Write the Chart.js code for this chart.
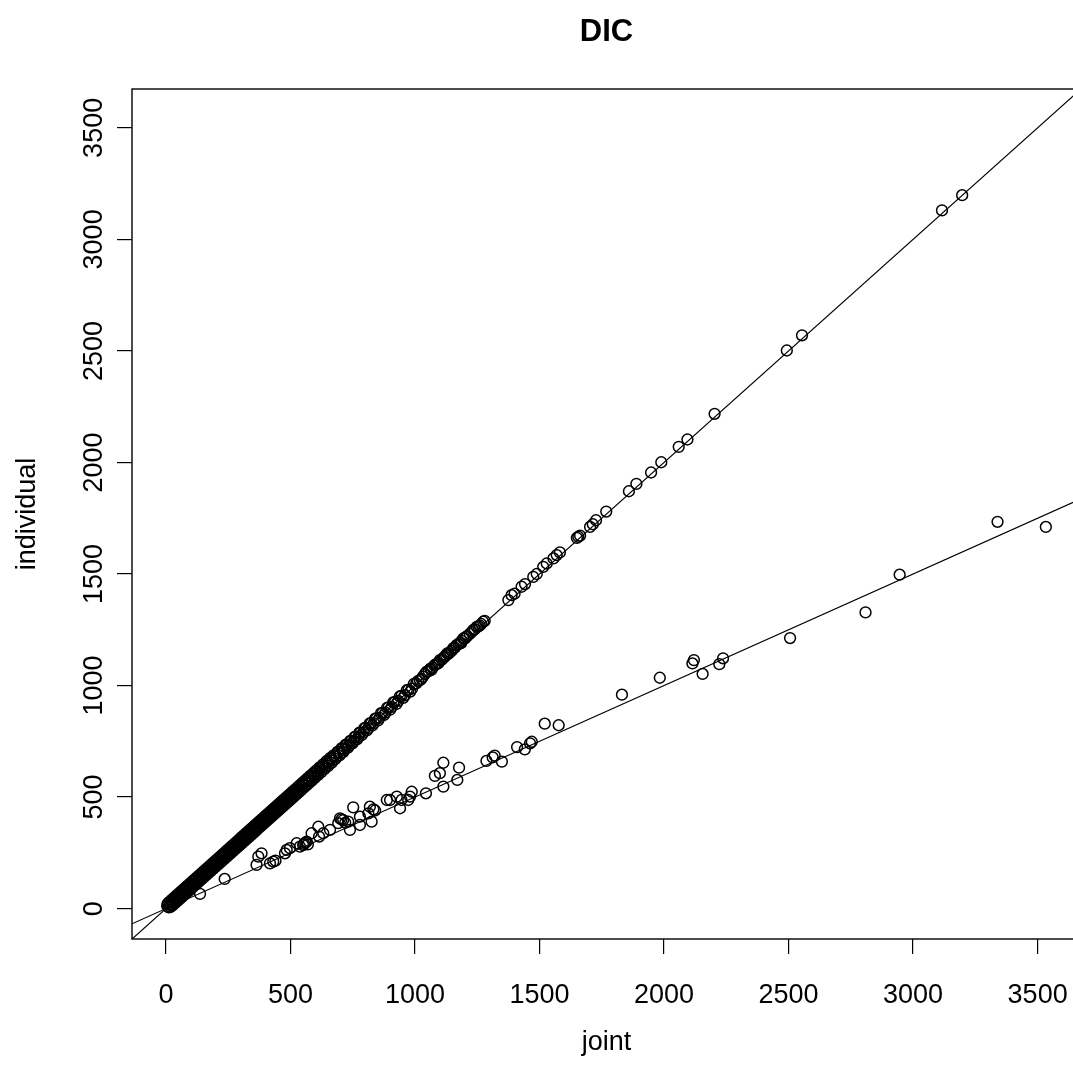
<!DOCTYPE html>
<html>
<head>
<meta charset="utf-8">
<title>DIC</title>
<script src="https://cdn.jsdelivr.net/npm/chart.js@4"></script>
<style>
  html, body { margin: 0; padding: 0; background: #fff; overflow: hidden; }
  #chart { display: block; }
</style>
</head>
<body>
<canvas id="chart" width="1083" height="1076" style="width:1083px;height:1076px"></canvas>
<script>
// DIC: joint vs individual, two groups of points and two reference lines

const TITLE = 'DIC';
const X_LABEL = 'joint';
const Y_LABEL = 'individual';

const xTicks = [0, 500, 1000, 1500, 2000, 2500, 3000, 3500];
const yTicks = [0, 500, 1000, 1500, 2000, 2500, 3000, 3500];

// upper group (individual ~ joint)
const upperJoint = [
  5, 10, 16, 21, 26, 30, 35, 39, 44, 48, 53, 57, 61, 66, 70, 74, 79, 83, 88, 92,
  97, 101, 106, 110, 115, 119, 124, 128, 133, 137, 142, 146, 151, 155, 160, 164, 169, 173, 178, 182,
  187, 191, 196, 200, 205, 209, 214, 218, 223, 227, 232, 236, 241, 245, 250, 254, 259, 263, 268, 272,
  277, 281, 286, 290, 295, 299, 304, 308, 313, 317, 322, 326, 331, 335, 340, 344, 349, 353, 358, 362,
  367, 371, 376, 380, 385, 389, 394, 398, 403, 407, 412, 416, 421, 425, 430, 434, 439, 443, 448, 452,
  457, 461, 466, 470, 475, 479, 484, 488, 493, 497, 502, 506, 511, 516, 521, 526, 531, 536, 541, 546,
  551, 556, 561, 566, 571, 577, 583, 589, 595, 601, 607, 613, 620, 627, 634, 641, 648, 655, 662, 669,
  677, 685, 693, 701, 709, 717, 726, 735, 744, 753, 762, 772, 782, 792, 802, 813, 824, 835, 846, 858,
  870, 882, 894, 907, 920, 933, 946, 960, 974, 988,
  1005, 1020, 1032, 1047, 1055, 1062, 1070, 1078, 1088, 1100, 1108, 1115, 1125, 1135, 1141, 1154, 1160, 1167, 1175, 1181,
  1188, 1194, 1200, 1210, 1220, 1234, 1240, 1248, 1255, 1260, 1274, 1280, 1375, 1388, 1400, 1428, 1442, 1475, 1489, 1515,
  1529, 1556, 1569, 1582, 1650, 1656, 1663, 1703, 1714, 1727, 1768, 1859, 1889, 1948, 1989, 2059, 2094, 2203, 2493, 2554,
  3116, 3197
];
const upperIndividual = [
  12, 8, 20, 17, 30, 27, 41, 36, 50, 44, 58, 55, 68, 62, 77, 71, 86, 80, 95, 88,
  104, 98, 112, 107, 122, 114, 131, 125, 140, 132, 150, 142, 158, 152, 168, 160, 176, 170, 186, 178,
  194, 188, 204, 196, 213, 206, 221, 214, 231, 224, 240, 232, 249, 242, 258, 250, 267, 260, 276, 268,
  285, 278, 294, 286, 303, 296, 312, 304, 321, 314, 330, 322, 339, 332, 348, 340, 357, 350, 366, 358,
  375, 368, 384, 376, 393, 386, 402, 394, 411, 404, 420, 412, 429, 422, 438, 430, 447, 440, 456, 448,
  465, 458, 474, 466, 483, 476, 492, 484, 501, 494, 510, 502, 519, 512, 529, 522, 539, 531, 549, 541,
  559, 551, 569, 561, 579, 572, 590, 584, 603, 596, 614, 608, 628, 622, 641, 636, 655, 650, 670, 664,
  684, 680, 700, 696, 716, 713, 733, 731, 751, 749, 770, 768, 789, 789, 810, 809, 831, 832, 853, 855,
  877, 879, 902, 904, 927, 931, 954, 957, 981, 986,
  1010, 1024, 1040, 1062, 1064, 1076, 1079, 1090, 1097, 1114, 1116, 1125, 1136, 1143, 1150, 1168, 1170, 1181, 1186, 1192,
  1200, 1211, 1210, 1222, 1232, 1249, 1252, 1263, 1265, 1270, 1286, 1290, 1383, 1405, 1412, 1443, 1455, 1487, 1500, 1532,
  1547, 1570, 1585, 1597, 1662, 1667, 1672, 1711, 1723, 1741, 1780, 1871, 1904, 1955, 2001, 2070, 2103, 2218, 2502, 2570,
  3130, 3198
];

// more of the upper group inside the dense band (0 - 1300)
const bandJoint = [
  7, 12, 14, 19, 24, 28, 33, 38, 42, 47, 51, 56, 60, 65, 69, 74, 78, 83, 87, 92,
  96, 100, 105, 109, 114, 118, 123, 127, 132, 136, 141, 145, 150, 154, 159, 163, 168, 172, 177, 181,
  186, 190, 195, 199, 204, 208, 213, 217, 222, 226, 231, 235, 240, 244, 249, 253, 258, 262, 267, 271,
  276, 280, 285, 289, 294, 298, 303, 307, 312, 316, 321, 325, 330, 334, 339, 343, 348, 352, 357, 361,
  366, 370, 375, 379, 384, 388, 393, 397, 402, 406, 411, 415, 420, 424, 429, 433, 438, 442, 447, 451,
  456, 460, 465, 469, 474, 478, 483, 487, 492, 496, 501, 505, 510, 514, 519, 524, 529, 534, 539, 544,
  549, 554, 559, 564, 569, 574, 580, 586, 592, 598, 604, 610, 617, 624, 631, 638, 645, 652, 659, 666,
  673, 681, 689, 697, 705, 713, 722, 731, 740, 749, 758, 767, 777, 787, 797, 807, 818, 829, 840, 852,
  864, 876, 888, 900, 913, 926, 939, 953, 967, 981, 995,
  1012, 1026, 1040, 1066, 1083, 1094, 1120, 1130, 1148, 1185, 1205, 1228, 1266
];
const bandIndividual = [
  23, 6, 30, 8, 40, 16, 49, 26, 58, 35, 67, 44, 76, 53, 85, 62, 94, 71, 103, 80,
  112, 88, 121, 97, 130, 106, 139, 115, 148, 124, 157, 133, 166, 142, 175, 151, 184, 160, 193, 169,
  202, 178, 211, 187, 220, 196, 229, 205, 238, 214, 247, 223, 256, 232, 265, 241, 274, 250, 283, 259,
  292, 268, 301, 277, 310, 286, 319, 295, 328, 304, 337, 313, 346, 322, 355, 331, 364, 340, 373, 349,
  382, 358, 391, 367, 400, 376, 409, 385, 418, 394, 427, 403, 436, 412, 445, 421, 454, 430, 463, 439,
  472, 448, 481, 457, 490, 466, 499, 475, 508, 484, 517, 493, 526, 502, 535, 512, 545, 522, 555, 532,
  565, 542, 575, 552, 585, 562, 596, 574, 608, 586, 620, 598, 633, 612, 647, 626, 661, 640, 675, 654,
  687, 671, 703, 687, 719, 703, 735, 722, 752, 741, 770, 759, 789, 779, 809, 799, 830, 821, 852, 844,
  876, 868, 900, 892, 925, 918, 951, 945, 979, 973, 1007,
  1020, 1030, 1052, 1070, 1095, 1100, 1130, 1144, 1156, 1190, 1218, 1240, 1276
];

// lower group (individual ~ joint / 2)
const lowerJoint = [
  137, 236, 364, 371, 384, 418, 431, 440, 478, 485, 498, 525, 538, 551, 555, 560, 565, 570, 585, 612,
  615, 632, 659, 692, 699, 705, 712, 720, 732, 739, 752, 779, 779, 813, 819, 826, 833, 840, 887, 900,
  927, 940, 946, 973, 980, 987, 1044, 1080, 1100, 1114, 1114, 1170, 1177, 1287, 1312, 1320, 1349, 1410, 1441, 1462,
  1469, 1521, 1577, 1831, 1983, 2114, 2120, 2155, 2222, 2237, 2506, 2809, 2946, 3339, 3533
];
const lowerIndividual = [
  66, 133, 196, 233, 248, 203, 211, 215, 248, 263, 271, 293, 278, 285, 290, 296, 300, 288, 338, 367,
  323, 338, 353, 383, 405, 400, 397, 385, 390, 353, 454, 412, 375, 427, 457, 390, 445, 440, 487, 487,
  502, 450, 487, 487, 502, 524, 517, 595, 607, 654, 547, 577, 632, 662, 678, 686, 659, 724, 714, 741,
  748, 829, 822, 959, 1035, 1099, 1114, 1052, 1096, 1122, 1213, 1328, 1497, 1734, 1711
];

// reference lines: individual = slope * joint
const lineSlopes = [1, 0.5];

const FONT = '"Liberation Sans", Arial, Helvetica, sans-serif';

// R-style axis range: shared range of both variables, extended by 4%
const allValues = upperJoint.concat(upperIndividual, bandJoint, bandIndividual, lowerJoint, lowerIndividual);
const lo0 = Math.min(...allValues);
const hi0 = Math.max(...allValues);
const ext = (hi0 - lo0) * 0.04;
const axisMin = lo0 - ext;
const axisMax = hi0 + ext;

function toPoints(xs, ys) {
  return xs.map((x, i) => ({ x: x, y: ys[i] }));
}

const pointStyle = {
  type: 'scatter',
  pointStyle: 'circle',
  pointRadius: 5.4,
  pointBorderWidth: 1.5,
  pointBorderColor: '#000',
  pointBackgroundColor: 'rgba(0,0,0,0)',
  showLine: false
};

const lineDatasets = lineSlopes.map(s => ({
  type: 'line',
  data: [{ x: axisMin, y: s * axisMin }, { x: axisMax, y: s * axisMax }],
  borderColor: '#000',
  borderWidth: 1.2,
  pointRadius: 0,
  fill: false,
  tension: 0
}));

// frame + all text, placed like R base graphics
const rPlot = {
  id: 'rPlot',
  afterDraw(chart) {
    const ctx = chart.ctx;
    const a = chart.chartArea;
    const xs = chart.scales.x;
    const ys = chart.scales.y;
    ctx.save();
    ctx.strokeStyle = '#000';
    ctx.lineWidth = 1.4;
    ctx.strokeRect(a.left, a.top, a.right - a.left, a.bottom - a.top);

    ctx.fillStyle = '#000';
    const cx = (a.left + a.right) / 2;
    const cy = (a.top + a.bottom) / 2;

    ctx.font = 'bold 31px ' + FONT;
    ctx.textAlign = 'center';
    ctx.textBaseline = 'alphabetic';
    ctx.fillText(TITLE, cx, 41);

    ctx.font = '27px ' + FONT;
    xTicks.forEach(v => {
      ctx.fillText(String(v), xs.getPixelForValue(v), 1003);
    });
    ctx.fillText(X_LABEL, cx, 1050);

    yTicks.forEach(v => {
      ctx.save();
      ctx.translate(102, ys.getPixelForValue(v));
      ctx.rotate(-Math.PI / 2);
      ctx.fillText(String(v), 0, 0);
      ctx.restore();
    });

    ctx.save();
    ctx.translate(35, cy);
    ctx.rotate(-Math.PI / 2);
    ctx.fillText(Y_LABEL, 0, 0);
    ctx.restore();
    ctx.restore();
  }
};

function tickSetter(values) {
  return scale => { scale.ticks = values.map(v => ({ value: v })); };
}

const axisGrid = {
  display: true,
  drawOnChartArea: false,
  drawTicks: true,
  tickLength: 15,
  color: '#000',
  lineWidth: 1.2
};

new Chart(document.getElementById('chart'), {
  type: 'scatter',
  data: {
    datasets: [
      Object.assign({ data: toPoints(upperJoint, upperIndividual) }, pointStyle),
      Object.assign({ data: toPoints(bandJoint, bandIndividual) }, pointStyle),
      Object.assign({ data: toPoints(lowerJoint, lowerIndividual) }, pointStyle),
      ...lineDatasets
    ]
  },
  options: {
    responsive: false,
    animation: false,
    devicePixelRatio: 1,
    layout: { autoPadding: false, padding: { top: 89, right: 2, left: 0, bottom: 0 } },
    plugins: { legend: { display: false }, tooltip: { enabled: false }, title: { display: false } },
    scales: {
      x: {
        type: 'linear',
        position: 'bottom',
        min: axisMin,
        max: axisMax,
        afterBuildTicks: tickSetter(xTicks),
        afterFit: s => { s.height = 137; },
        grid: axisGrid,
        border: { display: false },
        ticks: { display: false }
      },
      y: {
        type: 'linear',
        position: 'left',
        min: axisMin,
        max: axisMax,
        afterBuildTicks: tickSetter(yTicks),
        afterFit: s => { s.width = 132; },
        grid: axisGrid,
        border: { display: false },
        ticks: { display: false }
      }
    }
  },
  plugins: [rPlot]
});
</script>
</body>
</html>
